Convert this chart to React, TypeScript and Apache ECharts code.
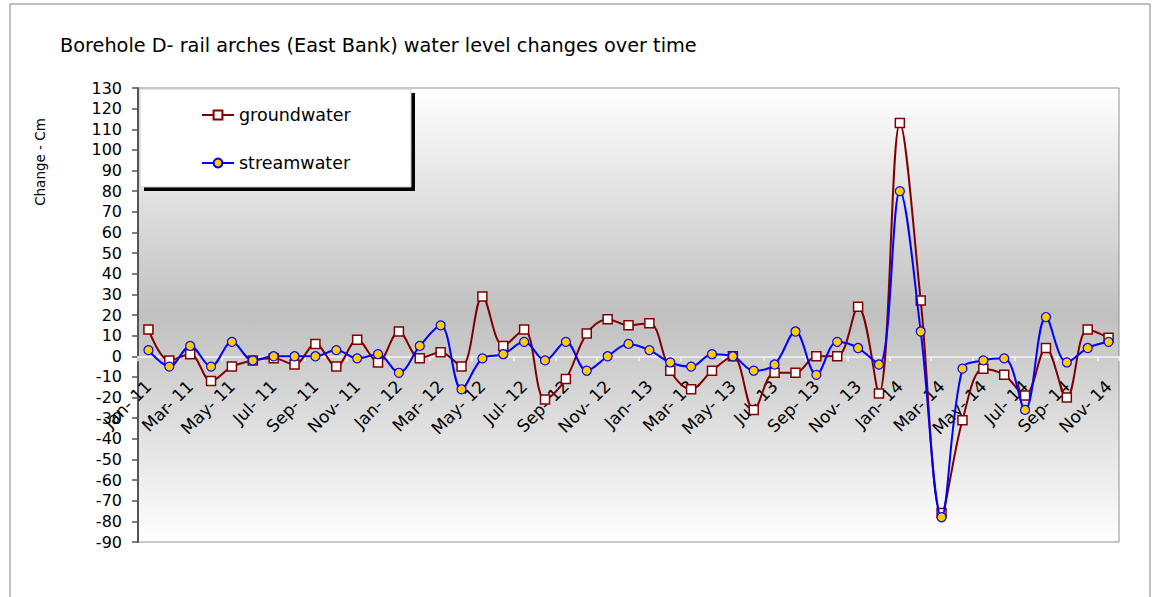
import React, { useEffect, useRef } from "react";
import * as echarts from "echarts";

const categories = [
  "Jan- 11", "Feb- 11", "Mar- 11", "Apr- 11", "May- 11", "Jun- 11", "Jul- 11", "Aug- 11", "Sep- 11", "Oct- 11", "Nov- 11", "Dec- 11",
  "Jan- 12", "Feb- 12", "Mar- 12", "Apr- 12", "May- 12", "Jun- 12", "Jul- 12", "Aug- 12", "Sep- 12", "Oct- 12", "Nov- 12", "Dec- 12",
  "Jan- 13", "Feb- 13", "Mar- 13", "Apr- 13", "May- 13", "Jun- 13", "Jul- 13", "Aug- 13", "Sep- 13", "Oct- 13", "Nov- 13", "Dec- 13",
  "Jan- 14", "Feb- 14", "Mar- 14", "Apr- 14", "May- 14", "Jun- 14", "Jul- 14", "Aug- 14", "Sep- 14", "Oct- 14", "Nov- 14",
];

const groundwater = [
  13, -2, 1, -12, -5, -2, -1, -4, 6, -5, 8, -3,
  12, -1, 2, -5, 29, 5, 13, -21, -11, 11, 18, 15,
  16, -7, -16, -7, 0, -26, -8, -8, 0, 0, 24, -18,
  113, 27, -76, -31, -6, -9, -19, 4, -20, 13, 9,
];

const streamwater = [
  3, -5, 5, -5, 7, -2, 0, 0, 0, 3, -1, 1,
  -8, 5, 15, -16, -1, 1, 7, -2, 7, -7, 0, 6,
  3, -3, -5, 1, 0, -7, -4, 12, -9, 7, 4, -4,
  80, 12, -78, -6, -2, -1, -26, 19, -3, 4, 7,
];

const yMin = -90;
const yMax = 130;
const yStep = 10;

const FONT = "DejaVu Sans";
const GRID_TOP = 88;
const GRID_HEIGHT = 454;

export default function App() {
  const ref = useRef<HTMLDivElement>(null);

  useEffect(() => {
    if (!ref.current) return;
    const chart = echarts.init(ref.current, null, { renderer: "svg" });
    const zeroOffset = (GRID_HEIGHT * (0 - yMin)) / (yMax - yMin);
    chart.setOption({
      animation: false,
      backgroundColor: "#ffffff",
      title: {
        text: "Borehole D- rail arches (East Bank) water level changes over time",
        left: 60,
        top: 36,
        padding: 0,
        textStyle: { fontFamily: FONT, fontSize: 19.3, fontWeight: "normal", color: "#000" },
      },
      graphic: [
        {
          type: "rect",
          z: 0,
          shape: { x: 10, y: 4, width: 1140, height: 640 },
          style: { fill: "none", stroke: "#808080", lineWidth: 1 },
        },
        {
          type: "rect",
          z: 1,
          shape: { x: 144, y: 93, width: 271, height: 98 },
          style: { fill: "#000000" },
        },
        {
          type: "rect",
          z: 1,
          shape: { x: 140, y: 89, width: 271, height: 98 },
          style: { fill: "#ffffff", stroke: "#c8c8c8", lineWidth: 1 },
        },
        {
          type: "text",
          z: 1,
          x: 40,
          y: 162,
          rotation: Math.PI / 2,
          style: {
            text: "Change - Cm",
            fontFamily: FONT,
            fontSize: 13.5,
            fill: "#000",
            align: "center",
            verticalAlign: "middle",
          },
        },
      ],
      legend: {
        orient: "vertical",
        left: 201,
        top: 106,
        padding: 0,
        z: 10,
        itemWidth: 32,
        itemHeight: 11,
        itemGap: 30,
        textStyle: { fontFamily: FONT, fontSize: 17.5, color: "#000" },
        data: ["groundwater", "streamwater"],
      },
      grid: {
        left: 138,
        right: 43,
        top: GRID_TOP,
        height: GRID_HEIGHT,
        outerBoundsMode: "none",
        containLabel: false,
        show: true,
        borderColor: "#909090",
        borderWidth: 1,
        backgroundColor: {
          type: "linear",
          x: 0,
          y: 0,
          x2: 0,
          y2: 1,
          colorStops: [
            { offset: 0, color: "#ffffff" },
            { offset: 0.5, color: "#c0c0c0" },
            { offset: 1, color: "#ffffff" },
          ],
        },
      },
      xAxis: {
        type: "category",
        data: categories,
        boundaryGap: true,
        position: "bottom",
        offset: -zeroOffset,
        axisLine: { onZero: false, lineStyle: { color: "#f4f4f4", width: 1.5 } },
        axisTick: { show: true, interval: 1, length: 5, lineStyle: { color: "#f4f4f4", width: 1.5 } },
        axisLabel: {
          interval: 1,
          rotate: 45,
          margin: 27,
          fontFamily: FONT,
          fontSize: 17,
          color: "#000",
        },
        splitLine: { show: false },
      },
      yAxis: {
        type: "value",
        min: yMin,
        max: yMax,
        interval: yStep,
        axisLine: { show: true, lineStyle: { color: "#555555", width: 2 } },
        axisTick: { show: true, length: 6, lineStyle: { color: "#555555", width: 1.5 } },
        axisLabel: { margin: 16, fontFamily: FONT, fontSize: 16, color: "#000" },
        splitLine: { show: false },
      },
      series: [
        {
          name: "groundwater",
          type: "line",
          data: groundwater,
          smooth: 0.35,
          symbol: "rect",
          symbolSize: 9,
          lineStyle: { color: "#800000", width: 2 },
          itemStyle: { color: "#ffffff", borderColor: "#800000", borderWidth: 1.5 },
          z: 3,
        },
        {
          name: "streamwater",
          type: "line",
          data: streamwater,
          smooth: 0.35,
          symbol: "circle",
          symbolSize: 9,
          lineStyle: { color: "#0000ff", width: 2 },
          itemStyle: { color: "#ffcc00", borderColor: "#0000ff", borderWidth: 1.2 },
          z: 4,
        },
      ],
    });
    return () => chart.dispose();
  }, []);

  return (
    <div
      ref={ref}
      style={{ position: "fixed", left: 0, top: 0, width: 1162, height: 597, background: "#fff" }}
    />
  );
}
